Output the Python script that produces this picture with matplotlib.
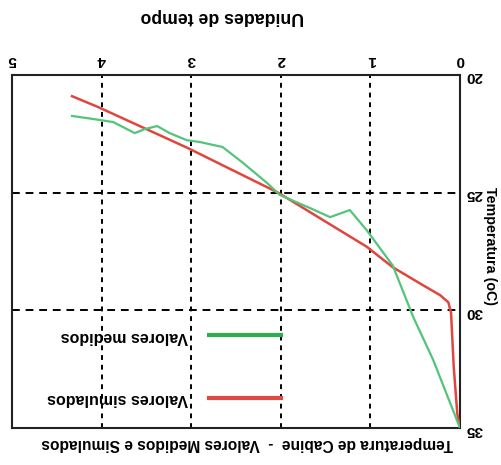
import matplotlib
matplotlib.use("Agg")
import matplotlib.pyplot as plt
from matplotlib.lines import Line2D

plt.rcParams['font.family'] = ['Liberation Sans', 'DejaVu Sans']

# Data (time units, temperature in oC)
green_t = [0, 0.30, 0.52, 0.75, 1.04, 1.23, 1.45, 1.67, 2.01, 2.15, 2.42, 2.65,
           2.90, 3.05, 3.24, 3.38, 3.52, 3.63, 3.87, 4.04, 4.33]
green_T = [35, 32.1, 30.3, 28.1, 26.6, 25.74, 26.04, 25.66, 25.1, 24.6, 23.74, 23.06,
           22.85, 22.77, 22.47, 22.17, 22.3, 22.47, 22.0, 21.9, 21.74]
red_t = [0, 0.03, 0.07, 0.10, 0.13, 0.22, 0.45, 0.75, 1.04, 2.03, 3.04, 4.04, 4.33]
red_T = [35, 34.4, 32.4, 30.1, 29.66, 29.36, 28.85, 28.17, 27.3, 25.0, 23.1, 21.36, 20.9]

x_ticks = [0, 1, 2, 3, 4, 5]
y_ticks = [20, 25, 30, 35]
label_medidos = "Valores medidos"
label_simulados = "Valores simulados"
title = "Temperatura de Cabine  -  Valores Medidos e Simulados"
xlabel = "Unidades de tempo"
ylabel = "Temperatura (oC)"

GREEN = '#52c57a'
RED = '#e0463f'

W, H = 501, 465
fig = plt.figure(figsize=(W / 100, H / 100), dpi=100)
L, R, T, B = 12, 460, 75, 428
ax = fig.add_axes([L / W, 1 - B / H, (R - L) / W, (B - T) / H])

ax.plot(red_t, red_T, color=RED, lw=1.8, zorder=3)
ax.plot(green_t, green_T, color=GREEN, lw=1.6, zorder=3)

ax.set_xlim(5, 0)
ax.set_ylim(35, 20)
ax.set_xticks(x_ticks)
ax.set_yticks(y_ticks)
ax.xaxis.tick_top()
ax.yaxis.tick_right()
ax.tick_params(length=0, labelsize=11)
ax.tick_params(axis='x', pad=6)
ax.tick_params(axis='y', pad=4)
for lab in ax.get_xticklabels() + ax.get_yticklabels():
    lab.set_rotation(180)
    lab.set_fontweight('bold')

for v in [1, 2, 3, 4]:
    ax.axvline(v, color='black', lw=1.4, ls=(0, (2.5, 2.5)), zorder=1)
for v in [25, 30]:
    ax.axhline(v, color='black', lw=1.4, ls=(0, (4, 3)), zorder=1)

for s in ax.spines.values():
    s.set_linewidth(1.5)
    s.set_color('#222222')

handles = [Line2D([], [], color='#2fae4f', lw=3), Line2D([], [], color='#dd4a44', lw=3)]
leg = ax.legend(handles, [label_medidos, label_simulados], loc='center',
                bbox_to_anchor=((164 - L) / (R - L), (B - 367.5) / (B - T)),
                frameon=False, markerfirst=False, handlelength=4.5,
                handletextpad=1.3, labelspacing=3.0, borderpad=0,
                prop={'size': 11.5, 'weight': 'bold'})
for t in leg.get_texts():
    t.set_rotation(180)

fig.text(222 / W, 1 - 16 / H, xlabel, rotation=180, ha='center', va='center',
         fontsize=12.7, fontweight='bold')
fig.text(490 / W, 1 - 246 / H, ylabel, rotation=270, ha='center', va='center',
         fontsize=10.3, fontweight='bold')
fig.text(247 / W, 1 - 443 / H, title, rotation=180, ha='center', va='center',
         fontsize=11.2, fontweight='bold')

fig.savefig('out.png', dpi=100)
